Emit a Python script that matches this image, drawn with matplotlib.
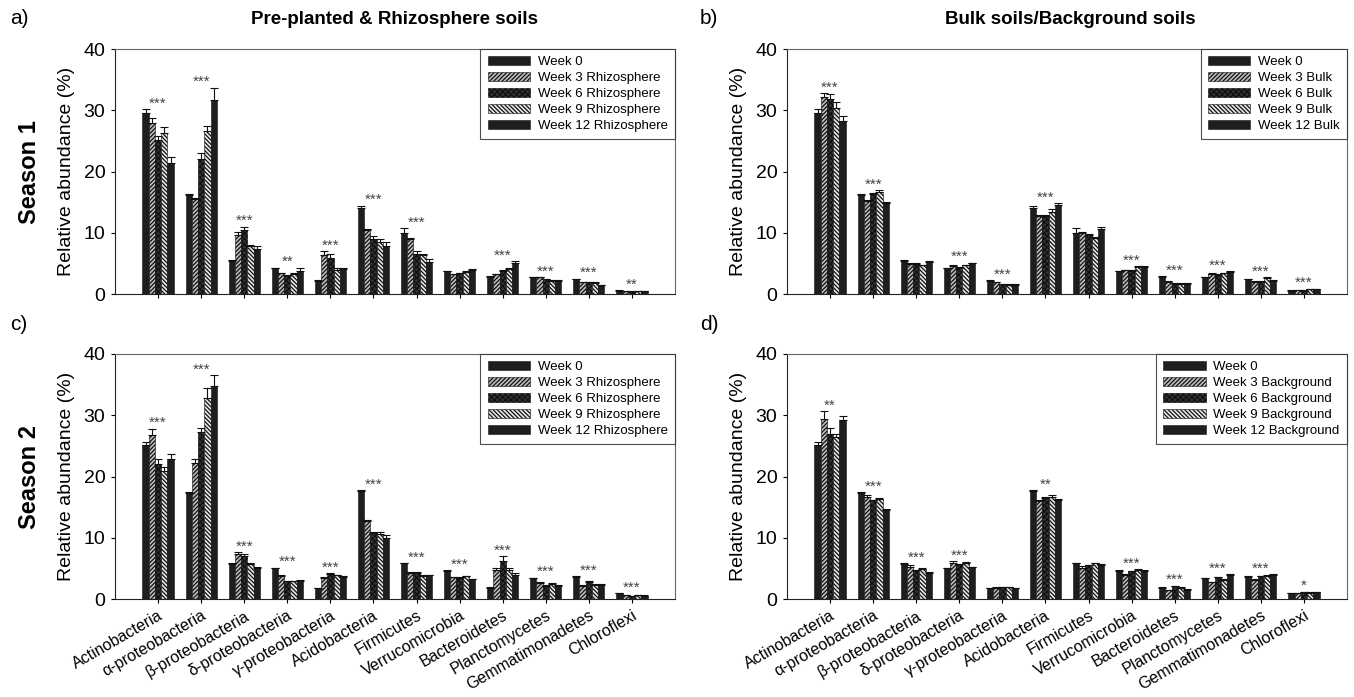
import numpy as np
import matplotlib
matplotlib.use("Agg")
import matplotlib.pyplot as plt

plt.rcParams['font.family'] = ['Liberation Sans', 'DejaVu Sans']
plt.rcParams['hatch.linewidth'] = 0.9

phyla = ['Actinobacteria', 'α-proteobacteria', 'β-proteobacteria', 'δ-proteobacteria',
         'γ-proteobacteria', 'Acidobacteria', 'Firmicutes', 'Verrucomicrobia',
         'Bacteroidetes', 'Planctomycetes', 'Gemmatimonadetes', 'Chloroflexi']

# Season 1, week 0 (shared by a and b)
s1_w0 = [29.6, 16.2, 5.4, 4.2, 2.2, 14.1, 10.0, 3.7, 2.8, 2.7, 2.4, 0.55]
s1_w0_err = [0.6, 0.1, 0.1, 0.1, 0.1, 0.3, 0.7, 0.1, 0.1, 0.1, 0.1, 0.05]
# a) rhizosphere season 1
a_w3 = [27.9, 15.5, 9.6, 3.4, 6.4, 10.4, 8.9, 3.2, 3.2, 2.7, 1.9, 0.5]
a_w6 = [25.1, 22.0, 10.4, 3.0, 5.9, 9.0, 6.6, 3.4, 3.8, 2.4, 1.9, 0.4]
a_w9 = [26.3, 26.6, 7.8, 3.2, 4.0, 8.5, 6.3, 3.6, 4.1, 2.2, 1.8, 0.45]
a_w12 = [21.4, 31.7, 7.4, 3.7, 4.1, 7.9, 5.3, 3.9, 5.0, 2.2, 1.4, 0.5]
a_w3_err = [0.8, 0.1, 0.5, 0.1, 0.6, 0.2, 0.3, 0.1, 0.1, 0.1, 0.1, 0.05]
a_w6_err = [0.7, 1.0, 0.6, 0.1, 0.6, 0.5, 0.4, 0.1, 0.1, 0.1, 0.1, 0.05]
a_w9_err = [1.0, 0.9, 0.2, 0.2, 0.2, 0.5, 0.2, 0.1, 0.2, 0.1, 0.1, 0.05]
a_w12_err = [0.9, 2.0, 0.4, 0.6, 0.2, 0.6, 0.4, 0.2, 0.4, 0.1, 0.1, 0.05]
a_stars = ['***', '***', '***', '**', '***', '***', '***', '', '***', '***', '***', '**']

# b) bulk season 1
b_w3 = [32.2, 15.2, 4.9, 4.6, 1.9, 12.8, 9.9, 3.9, 2.0, 3.3, 2.0, 0.6]
b_w6 = [31.9, 16.4, 4.9, 4.3, 1.6, 12.8, 9.6, 3.8, 1.7, 3.1, 2.0, 0.55]
b_w9 = [30.4, 16.7, 4.7, 4.7, 1.5, 13.4, 9.1, 4.4, 1.7, 3.4, 2.6, 0.75]
b_w12 = [28.3, 14.9, 5.2, 5.0, 1.5, 14.5, 10.6, 4.4, 1.7, 3.6, 2.2, 0.8]
b_w3_err = [0.6, 0.1, 0.1, 0.1, 0.1, 0.1, 0.2, 0.1, 0.1, 0.1, 0.1, 0.05]
b_w6_err = [0.7, 0.1, 0.1, 0.1, 0.1, 0.1, 0.2, 0.1, 0.1, 0.1, 0.1, 0.05]
b_w9_err = [0.9, 0.2, 0.1, 0.1, 0.1, 0.4, 0.2, 0.1, 0.1, 0.1, 0.1, 0.05]
b_w12_err = [0.8, 0.1, 0.2, 0.1, 0.1, 0.3, 0.4, 0.1, 0.1, 0.1, 0.1, 0.05]
b_stars = ['***', '***', '', '***', '***', '***', '', '***', '***', '***', '***', '***']

# Season 2, week 0 (shared by c and d)
s2_w0 = [25.1, 17.3, 5.7, 5.0, 1.75, 17.6, 5.8, 4.6, 1.85, 3.4, 3.6, 0.93]
s2_w0_err = [0.6, 0.1, 0.1, 0.1, 0.05, 0.2, 0.1, 0.1, 0.05, 0.1, 0.1, 0.05]
# c) rhizosphere season 2
c_w3 = [26.8, 22.2, 7.4, 3.7, 3.5, 12.7, 4.3, 3.55, 4.8, 2.6, 2.2, 0.65]
c_w6 = [22.0, 27.2, 7.1, 2.9, 4.15, 10.7, 4.3, 3.5, 6.2, 2.2, 2.8, 0.5]
c_w9 = [20.9, 32.8, 5.7, 2.9, 3.9, 10.6, 3.8, 3.7, 4.8, 2.45, 2.35, 0.65]
c_w12 = [22.9, 34.8, 5.1, 3.0, 3.65, 10.0, 3.9, 3.2, 4.0, 2.2, 2.3, 0.55]
c_w3_err = [1.0, 0.6, 0.2, 0.3, 0.1, 0.2, 0.1, 0.1, 0.3, 0.1, 0.1, 0.05]
c_w6_err = [0.9, 0.7, 0.2, 0.1, 0.1, 0.3, 0.1, 0.1, 0.8, 0.1, 0.1, 0.05]
c_w9_err = [0.6, 1.6, 0.2, 0.1, 0.1, 0.3, 0.1, 0.1, 0.2, 0.1, 0.1, 0.05]
c_w12_err = [0.8, 1.8, 0.1, 0.1, 0.1, 0.4, 0.1, 0.1, 0.2, 0.1, 0.1, 0.05]
c_stars = ['***'] * 12

# d) background season 2
d_w3 = [29.4, 16.7, 5.3, 5.9, 1.85, 16.0, 5.1, 3.9, 1.4, 2.7, 3.15, 0.93]
d_w6 = [27.0, 16.1, 4.7, 5.6, 1.95, 16.5, 5.5, 4.5, 2.1, 3.55, 3.7, 1.15]
d_w9 = [26.4, 16.25, 4.9, 5.95, 1.9, 16.7, 5.8, 4.75, 1.8, 3.1, 3.75, 1.05]
d_w12 = [29.2, 14.6, 4.3, 5.2, 1.8, 16.1, 5.6, 4.6, 1.5, 4.0, 4.0, 1.1]
d_w3_err = [1.3, 0.2, 0.2, 0.3, 0.05, 0.2, 0.3, 0.2, 0.1, 0.1, 0.1, 0.05]
d_w6_err = [0.9, 0.1, 0.1, 0.1, 0.05, 0.2, 0.1, 0.1, 0.1, 0.1, 0.1, 0.05]
d_w9_err = [0.6, 0.2, 0.1, 0.1, 0.05, 0.2, 0.1, 0.1, 0.1, 0.1, 0.1, 0.05]
d_w12_err = [0.6, 0.1, 0.1, 0.1, 0.05, 0.2, 0.1, 0.1, 0.1, 0.1, 0.1, 0.05]
d_stars = ['**', '***', '***', '***', '', '**', '', '***', '***', '***', '***', '*']

# bar styles for week 0, 3, 6, 9, 12
styles = [
    dict(facecolor='#1e1e1e', hatch=None),
    dict(facecolor='#bdbdbd', hatch='////////'),
    dict(facecolor='#333333', hatch='xxxxxx'),
    dict(facecolor='#e8e8e8', hatch='\\\\\\\\\\\\\\\\'),
    dict(facecolor='#1e1e1e', hatch=None),
]

fig = plt.figure(figsize=(13.54, 6.97), dpi=100)
W, H = 1354, 697


def make_ax(l, r, t, b):
    return fig.add_axes([l / W, 1 - b / H, (r - l) / W, (b - t) / H])


def draw_panel(ax, series, errs, labels, stars, show_x):
    x = np.arange(len(phyla))
    bw = 0.145
    for i, (vals, er) in enumerate(zip(series, errs)):
        pos = x + (i - 2) * bw
        st = styles[i]
        ax.bar(pos, vals, bw, facecolor=st['facecolor'], hatch=st['hatch'],
               edgecolor='#111111', linewidth=0.4, label=labels[i], zorder=2)
        ax.errorbar(pos, vals, yerr=[np.zeros(len(er)), er], fmt='none',
                    ecolor='#111111', elinewidth=0.8, capsize=3, capthick=0.8, zorder=3)
    tops = np.max(np.array(series) + np.array(errs), axis=0)
    for xi, s, tp in zip(x, stars, tops):
        if s:
            ax.text(xi, tp + 0.25, s, ha='center', va='baseline', fontsize=11, color='#444444')
    ax.set_xlim(-1, 12)
    ax.set_ylim(0, 40)
    ax.set_yticks([0, 10, 20, 30, 40])
    ax.tick_params(axis='y', labelsize=14, length=3, direction='out', pad=4)
    ax.set_xticks(x)
    ax.tick_params(axis='x', length=3, direction='out')
    if show_x:
        ax.set_xticklabels(phyla, rotation=30, ha='right', rotation_mode='anchor', fontsize=11.5)
    else:
        ax.set_xticklabels([])
    ax.set_ylabel('Relative abundance (%)', fontsize=14, labelpad=6)
    for side in ['top', 'right']:
        ax.spines[side].set_color('#666666')
    for side in ['left', 'bottom']:
        ax.spines[side].set_color('#222222')
    leg = ax.legend(loc='upper right', borderaxespad=0, fontsize=9.5, frameon=True,
                    fancybox=False, handlelength=3.2, handleheight=0.6,
                    labelspacing=0.3, borderpad=0.55, handletextpad=0.6)
    leg.get_frame().set_edgecolor('#222222')
    leg.get_frame().set_linewidth(0.8)


rhizo_labels = ['Week 0', 'Week 3 Rhizosphere', 'Week 6 Rhizosphere', 'Week 9 Rhizosphere', 'Week 12 Rhizosphere']
bulk_labels = ['Week 0', 'Week 3 Bulk', 'Week 6 Bulk', 'Week 9 Bulk', 'Week 12 Bulk']
bg_labels = ['Week 0', 'Week 3 Background', 'Week 6 Background', 'Week 9 Background', 'Week 12 Background']

ax_a = make_ax(115, 675, 49, 294)
draw_panel(ax_a, [s1_w0, a_w3, a_w6, a_w9, a_w12],
           [s1_w0_err, a_w3_err, a_w6_err, a_w9_err, a_w12_err], rhizo_labels, a_stars, False)
ax_b = make_ax(787, 1347, 49, 294)
draw_panel(ax_b, [s1_w0, b_w3, b_w6, b_w9, b_w12],
           [s1_w0_err, b_w3_err, b_w6_err, b_w9_err, b_w12_err], bulk_labels, b_stars, False)
ax_c = make_ax(115, 675, 354, 599)
draw_panel(ax_c, [s2_w0, c_w3, c_w6, c_w9, c_w12],
           [s2_w0_err, c_w3_err, c_w6_err, c_w9_err, c_w12_err], rhizo_labels, c_stars, True)
ax_d = make_ax(787, 1347, 354, 599)
draw_panel(ax_d, [s2_w0, d_w3, d_w6, d_w9, d_w12],
           [s2_w0_err, d_w3_err, d_w6_err, d_w9_err, d_w12_err], bg_labels, d_stars, True)

fig.text(10 / W, 1 - 18 / H, 'a)', fontsize=15, va='center', ha='left')
fig.text(700 / W, 1 - 18 / H, 'b)', fontsize=15, va='center', ha='left')
fig.text(10 / W, 1 - 325 / H, 'c)', fontsize=15, va='center', ha='left')
fig.text(700 / W, 1 - 325 / H, 'd)', fontsize=15, va='center', ha='left')
fig.text(395 / W, 1 - 20 / H, 'Pre-planted & Rhizosphere soils', fontsize=13.5,
         fontweight='bold', ha='center', va='center')
fig.text(1070 / W, 1 - 20 / H, 'Bulk soils/Background soils', fontsize=13.5,
         fontweight='bold', ha='center', va='center')
fig.text(30 / W, 1 - 172 / H, 'Season 1', fontsize=17, fontweight='bold',
         rotation=90, ha='center', va='center')
fig.text(30 / W, 1 - 477 / H, 'Season 2', fontsize=17, fontweight='bold',
         rotation=90, ha='center', va='center')

fig.savefig('out.png', dpi=100)
